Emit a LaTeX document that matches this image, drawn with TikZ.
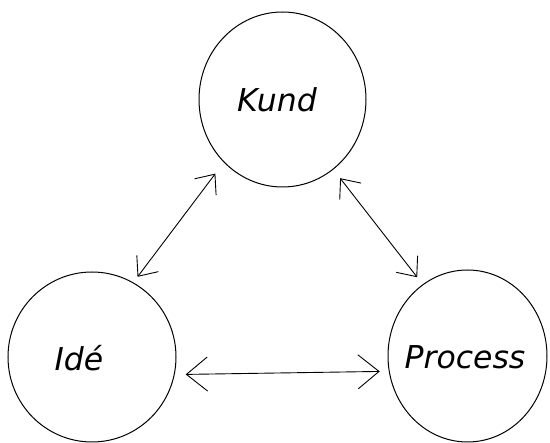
\documentclass[tikz,border=0pt]{standalone}
\usepackage{fontspec}
\newfontfamily\lblfont{DejaVu Sans}
\usetikzlibrary{arrows.meta,shapes.geometric}
\tikzset{
  blob/.style={draw=black, line width=1pt, ellipse, inner sep=0pt},
  lbl/.style={font=\lblfont\itshape\fontsize{31.5}{36}\selectfont, inner sep=0pt},
  link/.style={line width=0.9pt, {Straight Barb[length=16pt,width=27pt]}-{Straight Barb[length=16pt,width=27pt]}},
  widelink/.style={line width=0.9pt, {Straight Barb[length=21pt,width=34pt]}-{Straight Barb[length=21pt,width=34pt]}}
}
\begin{document}
\begin{tikzpicture}[x=1pt,y=-1pt]
  \useasboundingbox (0,0) rectangle (550,443);
  % the three circles
  \node[blob, minimum width=167pt, minimum height=175pt] (kund) at (282.5,99.5) {};
  \node[blob, minimum width=168pt, minimum height=170pt] (ide) at (92,357) {};
  \node[blob, minimum width=159pt, minimum height=172pt] (proc) at (467.5,356) {};
  % labels, set slightly off the circle centres
  \node[lbl] (kundlbl) at (277,100) {Kund};
  \node[lbl] (idelbl) at (79,358) {Idé};
  \node[lbl] (proclbl) at (465,357) {Process};
  % two-way connectors, stopping short of the circles
  \draw[link, shorten <=7pt, shorten >=14pt] (ide.61) -- (kund.227);
  \draw[link, shorten <=11pt, shorten >=9pt] (kund.306) -- (proc.122);
  \draw[widelink, shorten <=11pt, shorten >=9pt] (ide.348) -- (proc.191.5);
\end{tikzpicture}
\end{document}
